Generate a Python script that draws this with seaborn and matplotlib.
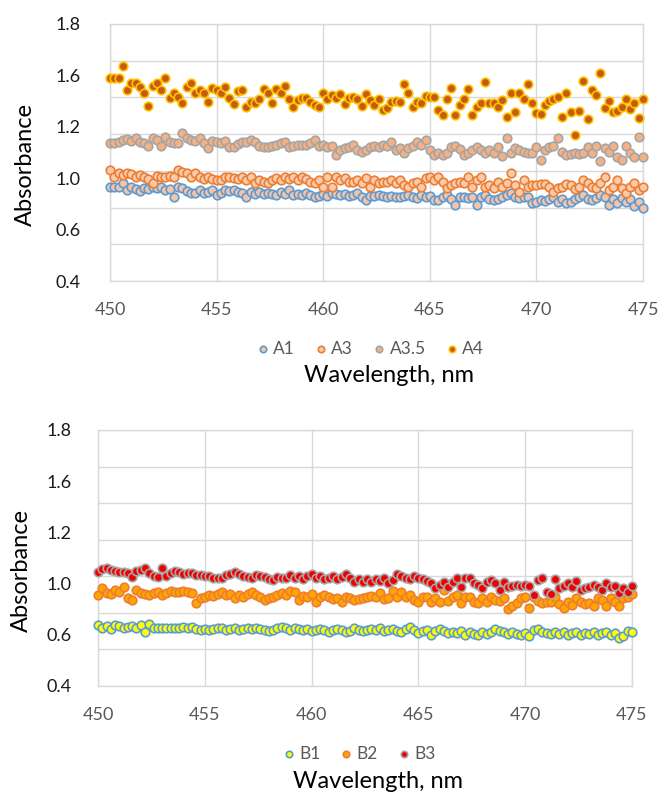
import numpy as np
import pandas as pd
import matplotlib
matplotlib.use("Agg")
import matplotlib.pyplot as plt
import seaborn as sns

# ---------------- data ----------------
wavelength = np.round(450 + 0.2 * np.arange(126), 1)

A1 = [0.914,0.910,0.914,0.932,0.896,0.914,0.900,0.892,0.905,0.900,0.914,0.905,0.914,0.896,0.900,0.860,0.914,0.905,0.892,0.878,
      0.882,0.896,0.878,0.887,0.896,0.869,0.882,0.896,0.892,0.896,0.887,0.882,0.860,0.887,
      0.874,0.887,0.874,0.882,0.874,0.869,0.887,0.874,0.896,0.869,0.874,0.869,0.878,0.869,0.860,0.864,0.874,0.864,0.878,0.874,
      0.869,0.874,0.864,0.869,0.878,0.860,0.842,0.864,0.864,0.869,0.864,0.860,0.864,0.856,0.860,0.864,0.869,0.860,0.851,0.869,
      0.860,0.864,0.842,0.842,0.860,0.869,0.846,0.815,0.860,
      0.860,0.851,0.860,0.815,0.860,0.869,0.846,0.842,0.846,0.860,0.869,0.878,0.860,0.851,0.856,0.860,0.824,0.833,0.842,0.838,
      0.846,0.860,0.833,0.846,0.824,0.833,0.846,0.860,0.869,0.846,0.842,0.851,0.869,0.860,0.815,0.846,0.824,0.851,0.828,0.846,
      0.806,0.828,0.797]
A3 = [1.005,0.969,0.987,0.978,0.987,0.983,0.969,0.978,0.969,0.954,0.936,0.972,0.965,0.965,0.972,0.969,1.005,0.996,0.987,0.969,
      0.987,0.969,0.954,0.965,0.954,0.951,0.951,0.965,0.969,0.960,0.954,0.965,0.951,0.969,
      0.933,0.951,0.942,0.933,0.951,0.960,0.951,0.965,0.954,0.969,0.951,0.969,0.954,0.942,0.933,0.951,0.914,0.965,0.914,0.969,
      0.951,0.960,0.942,0.942,0.951,0.933,0.960,0.914,0.951,0.933,0.942,0.942,0.951,0.933,0.951,0.923,0.914,0.933,0.942,0.914,
      0.960,0.969,0.951,0.969,0.942,0.905,0.923,0.933,0.940,
      0.933,0.969,0.914,0.951,0.969,0.914,0.923,0.905,0.942,0.914,0.933,0.987,0.923,0.887,0.951,0.914,0.923,0.923,0.928,0.928,
      0.914,0.887,0.905,0.914,0.928,0.923,0.900,0.914,0.951,0.933,0.914,0.905,0.933,0.969,0.896,0.914,0.951,0.905,0.878,0.914,
      0.933,0.896,0.914]
A3_5 = [1.150,1.150,1.159,1.168,1.172,1.165,1.177,1.159,1.150,1.136,1.177,1.168,1.136,1.183,1.159,1.150,1.150,1.205,1.177,1.168,
        1.165,1.177,1.150,1.123,1.165,1.159,1.150,1.165,1.132,1.129,1.147,1.159,1.159,1.168,
        1.159,1.136,1.132,1.132,1.136,1.141,1.150,1.159,1.132,1.136,1.141,1.141,1.141,1.150,1.168,1.136,1.141,1.132,1.136,1.087,
        1.114,1.123,1.132,1.141,1.114,1.105,1.114,1.129,1.136,1.129,1.141,1.136,1.159,1.114,1.123,1.096,1.123,1.136,1.159,1.141,
        1.168,1.114,1.087,1.096,1.087,1.096,1.129,1.136,1.120,
        1.087,1.096,1.114,1.129,1.114,1.100,1.114,1.100,1.132,1.081,1.177,1.096,1.123,1.114,1.105,1.096,1.096,1.129,1.060,1.114,
        1.132,1.136,1.177,1.105,1.087,1.092,1.096,1.092,1.096,1.129,1.096,1.136,1.051,1.123,1.105,1.136,1.078,1.060,1.136,1.096,
        1.078,1.186,1.074]
A4 = [1.508,1.504,1.504,1.571,1.441,1.477,1.480,1.459,1.422,1.353,1.462,1.477,1.441,1.504,1.395,1.422,1.400,1.368,1.459,1.480,
      1.422,1.441,1.426,1.377,1.450,1.441,1.422,1.455,1.395,1.364,1.437,1.441,1.350,1.377,
      1.368,1.390,1.444,1.422,1.371,1.444,1.422,1.462,1.390,1.350,1.386,1.395,1.395,1.377,1.359,1.350,1.426,1.390,1.413,1.395,
      1.419,1.364,1.395,1.404,1.390,1.353,1.419,1.386,1.359,1.390,1.332,1.341,1.377,1.382,1.377,1.473,1.422,1.350,1.377,1.371,
      1.408,1.404,1.404,1.332,1.304,1.390,1.450,1.304,1.359,
      1.390,1.444,1.304,1.350,1.371,1.486,1.368,1.371,1.350,1.386,1.292,1.426,1.322,1.422,1.390,1.471,1.371,1.313,1.310,1.359,
      1.382,1.390,1.404,1.292,1.422,1.322,1.195,1.328,1.491,1.281,1.441,1.413,1.531,1.341,1.382,1.322,1.328,1.350,1.390,1.335,
      1.368,1.286,1.390]

B1 = [0.734,0.719,0.730,0.712,0.734,0.730,0.719,0.725,0.730,0.719,0.734,0.694,0.737,0.719,0.716,0.719,0.716,0.719,0.716,0.719,
      0.725,0.716,0.725,0.712,0.707,0.712,0.707,0.712,0.719,0.716,0.707,0.712,0.719,0.707,0.712,0.719,0.712,0.719,0.712,0.707,
      0.701,0.707,0.716,0.725,
      0.716,0.707,0.716,0.712,0.707,0.712,0.701,0.707,0.712,0.707,0.698,0.707,0.712,0.707,0.698,0.701,0.719,0.707,0.701,0.707,
      0.712,0.707,0.716,0.701,0.707,0.712,0.701,0.694,0.712,0.725,0.707,0.689,0.701,0.707,0.680,0.701,0.712,0.701,0.689,0.698,
      0.689,0.701,
      0.680,0.698,0.683,0.680,0.694,0.683,0.698,0.712,0.701,0.694,0.683,0.698,0.683,0.680,0.689,0.676,0.707,0.712,0.698,0.689,
      0.683,0.694,0.683,0.698,0.680,0.689,0.694,0.680,0.689,0.683,0.694,0.680,0.689,0.694,0.680,0.689,0.662,0.676,0.701,0.694]
B2 = [0.898,0.934,0.907,0.902,0.925,0.916,0.944,0.880,0.871,0.925,0.907,0.902,0.898,0.907,0.912,0.898,0.907,0.920,0.916,0.912,
      0.920,0.912,0.907,0.853,0.880,0.889,0.898,0.894,0.902,0.916,0.898,0.902,0.880,0.898,0.889,0.902,0.912,0.898,0.889,0.871,
      0.880,0.884,0.898,0.907,
      0.898,0.920,0.912,0.871,0.894,0.884,0.902,0.858,0.889,0.898,0.884,0.876,0.880,0.862,0.884,0.880,0.871,0.876,0.880,0.884,
      0.894,0.889,0.907,0.876,0.880,0.920,0.884,0.916,0.884,0.898,0.871,0.862,0.884,0.889,0.862,0.880,0.858,0.925,0.867,0.884,
      0.898,0.853,
      0.889,0.889,0.862,0.853,0.880,0.862,0.884,0.871,0.865,0.880,0.822,0.835,0.853,0.880,0.889,0.829,0.884,0.865,0.853,0.862,
      0.862,0.884,0.847,0.825,0.862,0.844,0.880,0.862,0.847,0.853,0.840,0.880,0.871,0.835,0.880,0.862,0.835,0.880,0.889,0.902]
B3 = [1.025,1.040,1.044,1.035,1.029,1.025,1.025,1.016,0.998,1.029,1.035,1.044,1.016,1.004,0.998,1.044,1.004,1.016,1.029,1.022,
      1.011,1.016,1.016,1.007,1.007,1.004,1.004,0.993,0.989,0.993,1.007,1.011,1.025,1.011,1.004,0.998,0.989,1.007,1.004,0.998,
      0.985,0.980,0.998,0.993,
      0.989,1.007,0.993,1.004,0.985,1.004,1.011,0.993,1.004,0.985,0.989,1.004,0.985,0.998,1.011,0.989,0.967,0.985,0.971,0.985,
      0.971,0.985,0.975,0.993,0.962,0.980,1.011,1.004,0.989,0.985,1.004,0.989,0.985,0.975,0.962,0.934,0.953,0.971,0.944,0.971,
      0.989,0.944,
      0.989,0.993,0.962,0.953,0.934,0.971,0.980,0.962,0.925,0.967,0.944,0.949,0.953,0.949,0.953,0.949,0.898,0.980,0.989,0.916,
      0.902,0.985,0.934,0.949,0.962,0.944,0.975,0.925,0.934,0.944,0.953,0.944,0.925,0.962,0.944,0.949,0.907,0.934,0.912,0.949]

x_ticks = [450, 455, 460, 465, 470, 475]
y_tick_labels = ["0.4", "0.6", "1.0", "1.2", "1.6", "1.8"]
y_grid = [0.4, 0.6, 0.8, 1.0, 1.2, 1.4, 1.6, 1.8]

top_names = ["A1", "A3", "A3.5", "A4"]
top_values = [A1, A3, A3_5, A4]
top_face = ["#F6C4A4", "#F8CBAD", "#F4B183", "#C55A11"]
top_edge = ["#5B9BD5", "#ED7D31", "#A5A5A5", "#FFC000"]

bot_names = ["B1", "B2", "B3"]
bot_values = [B1, B2, B3]
bot_face = ["#FFFF00", "#FFA500", "#F00000"]
bot_edge = ["#5B9BD5", "#ED7D31", "#A5A5A5"]

for v in top_values + bot_values:
    assert len(v) == len(wavelength), len(v)

# ---------------- style ----------------
sns.set_style("white")
plt.rcParams['font.family'] = ['Lato', 'DejaVu Sans']

fig = plt.figure(figsize=(6.58, 7.94), dpi=100)
W, H = 658, 794


def axes_px(l, t, r, b):
    return fig.add_axes([l / W, 1 - b / H, (r - l) / W, (b - t) / H])


ax1 = axes_px(110, 24, 643, 281)
ax2 = axes_px(98, 430, 632, 686)


def draw(ax, names, values, faces, edges):
    for n, v, fc, ec in zip(names, values, faces, edges):
        df = pd.DataFrame({"Wavelength": wavelength, "Absorbance": v})
        sns.scatterplot(data=df, x="Wavelength", y="Absorbance", ax=ax, color=fc,
                        edgecolor=ec, linewidth=1.2, s=38, label=n, zorder=3,
                        clip_on=False)


def style(ax, ylab_xy, xlab_xy, leg_xy, ytick_pad):
    ax.set_xlim(450, 475)
    ax.set_ylim(0.4, 1.8)
    ax.set_xticks(x_ticks)
    ax.set_xticklabels([str(t) for t in x_ticks], color="#595959", fontsize=13)
    ax.set_yticks(np.linspace(0.4, 1.8, len(y_tick_labels)))
    ax.set_yticklabels(y_tick_labels, color="#1a1a1a", fontsize=13)
    ax.set_yticks(y_grid, minor=True)
    ax.yaxis.remove_overlapping_locs = False
    ax.grid(False)
    ax.grid(True, axis="y", which="minor", color="#D9D9D9", lw=1.0)
    ax.grid(True, axis="x", which="major", color="#D9D9D9", lw=1.0)
    ax.tick_params(axis="y", which="both", length=0, pad=ytick_pad)
    ax.tick_params(axis="x", length=0, pad=15)
    for s in ax.spines.values():
        s.set_color("#D9D9D9")
        s.set_linewidth(1.0)
    ax.set_axisbelow(True)
    ax.set_ylabel("Absorbance", fontsize=17, color="black")
    ax.yaxis.label.set_va("center")
    ax.yaxis.set_label_coords(*ylab_xy)
    ax.set_xlabel("Wavelength, nm", fontsize=17, color="black")
    ax.xaxis.label.set_va("center")
    ax.xaxis.set_label_coords(*xlab_xy)
    leg = ax.legend(loc="center", bbox_to_anchor=leg_xy, ncol=4, frameon=False,
                    fontsize=12.5, handletextpad=0.1, columnspacing=1.0,
                    handlelength=1.0, markerscale=0.75, borderaxespad=0)
    for t in leg.get_texts():
        t.set_color("#595959")


draw(ax1, top_names, top_values, top_face, top_edge)
draw(ax2, bot_names, bot_values, bot_face, bot_edge)

style(ax1, ((25 - 110) / 533, 1 - (164 - 24) / 257), ((389 - 110) / 533, -(376 - 281) / 257),
      ((369 - 110) / 533, -(349 - 281) / 257), 21)
style(ax2, ((21 - 98) / 534, 1 - (570 - 430) / 256), ((378 - 98) / 534, -(781 - 686) / 256),
      ((358 - 98) / 534, -(754 - 686) / 256), 19)

fig.savefig("out.png", dpi=100, facecolor="white")
